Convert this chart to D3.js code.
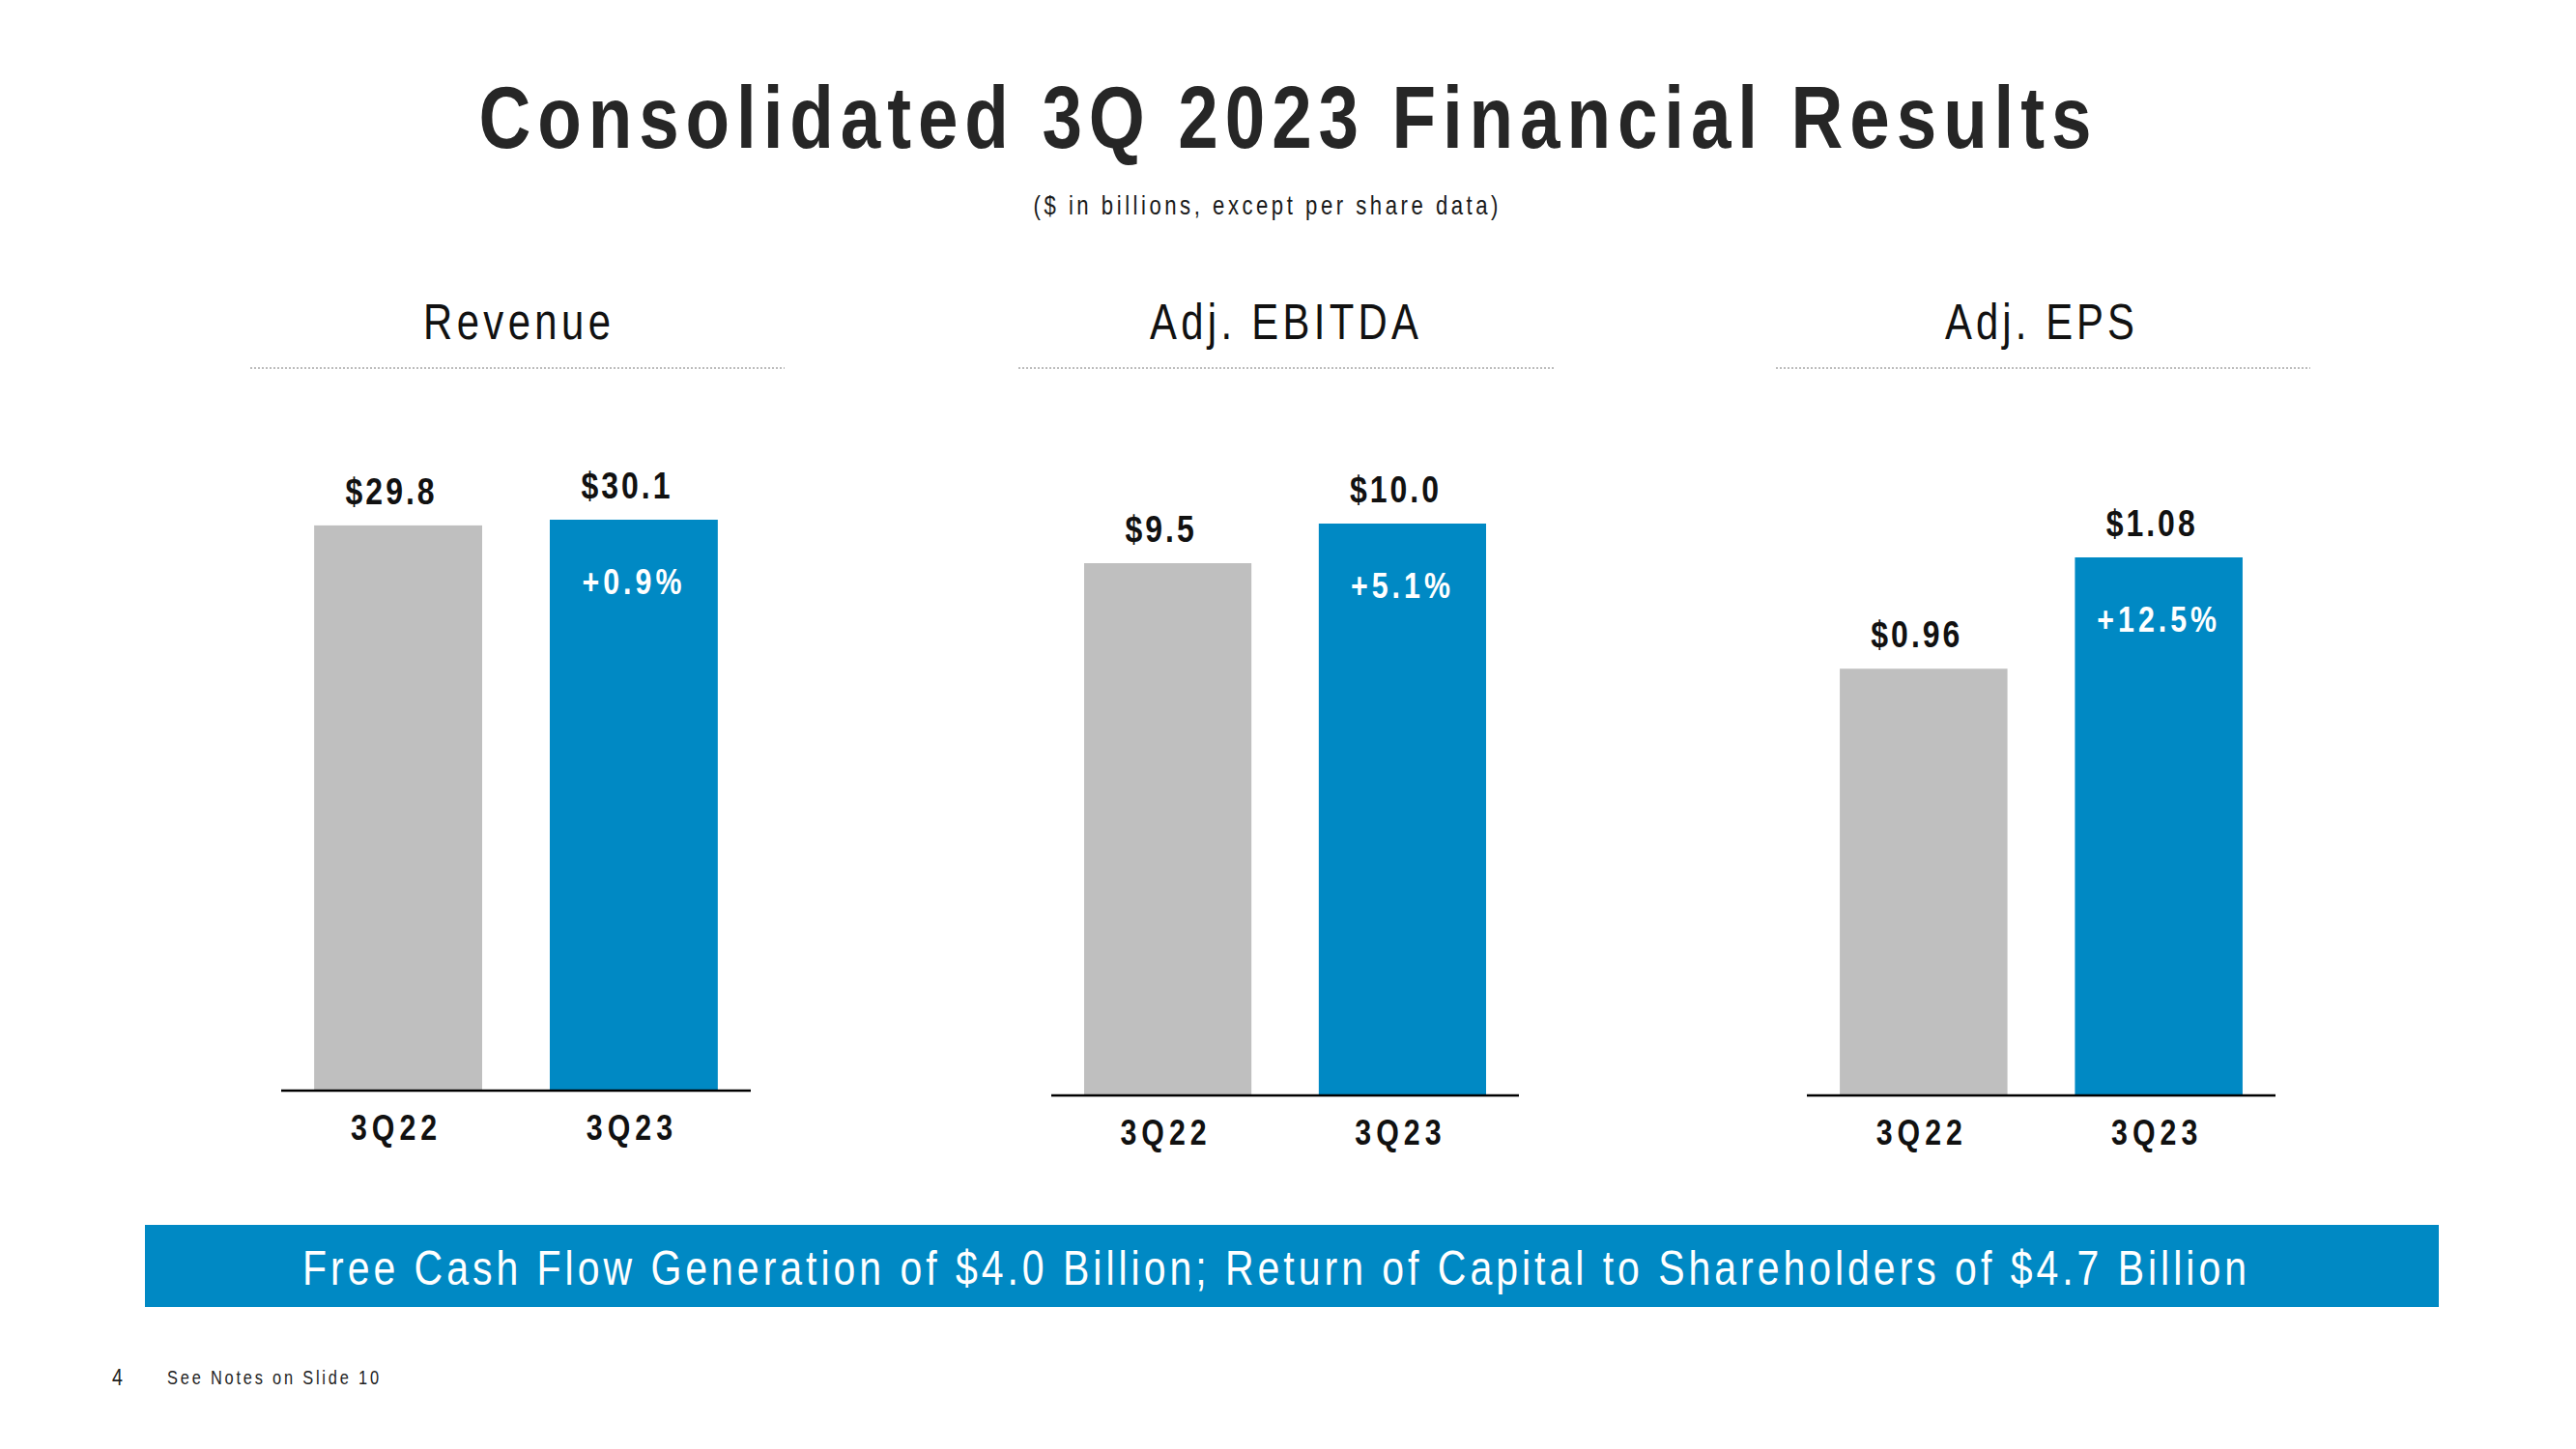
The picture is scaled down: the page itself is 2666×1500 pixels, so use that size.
<!DOCTYPE html>
<html><head><meta charset="utf-8">
<script src="https://cdn.jsdelivr.net/npm/d3@7"></script>
<style>
html,body{margin:0;padding:0;background:#fff;}
svg{display:block;}
text{font-family:"Liberation Sans Narrow","Arial Narrow","Liberation Sans",Arial,sans-serif;}
</style></head><body>
<svg id="chart" width="2666" height="1500"></svg>
<script>
// ---- data ----
const panelTitles = ["Revenue", "Adj. EBITDA", "Adj. EPS"];
const categories = ["3Q22", "3Q23"];
const revenueValues = [29.8, 30.1];
const ebitdaValues = [9.5, 10.0];
const epsValues = [0.96, 1.08];
const changeLabels = ["+0.9%", "+5.1%", "+12.5%"];
const valueFormats = ["$.1f", "$.1f", "$.2f"];
const titleText = "Consolidated 3Q 2023 Financial Results";
const subtitleText = "($ in billions, except per share data)";
const bannerText = "Free Cash Flow Generation of $4.0 Billion; Return of Capital to Shareholders of $4.7 Billion";
const pageNumber = "4";
const footnoteText = "See Notes on Slide 10";

const panelValues = [revenueValues, ebitdaValues, epsValues];

// ---- layout ----
const layout = [
  {axisL: 291, axisR: 777, axisY: 1129, yTop: 538, floor: 0, titleX: 535, titleW: 194, ruleL: 259, ruleR: 812},
  {axisL: 1088, axisR: 1572, axisY: 1134, yTop: 542, floor: 2.78, titleX: 1329, titleW: 278, ruleL: 1054, ruleR: 1608},
  {axisL: 1870, axisR: 2355, axisY: 1134, yTop: 577, floor: 0.5, titleX: 2111, titleW: 196, ruleL: 1838, ruleR: 2391}
];
const BLUE = "#0089C4", GRAY = "#BFBFBF", INK = "#111111";
const NX = 0.82; // horizontal condensing to emulate a narrow face

const svg = d3.select("#chart");
svg.append("rect").attr("width", 2666).attr("height", 1500).attr("fill", "#fff");

// narrow text helper: positions via transform, optional fitted width (real px)
function narrowText(parent, str, x, y, opts) {
  const t = parent.append("text").text(str)
    .attr("transform", `translate(${x},${y}) scale(${NX},1)`)
    .attr("x", 0).attr("y", 0)
    .attr("text-anchor", opts.anchor || "middle")
    .attr("font-size", opts.size)
    .attr("font-weight", opts.weight || "normal")
    .attr("fill", opts.fill || INK);
  if (opts.width) t.attr("textLength", opts.width / NX).attr("lengthAdjust", "spacing");
  if (opts.ls) t.attr("letter-spacing", (opts.ls / NX) + "px");
  return t;
}

narrowText(svg, titleText, 1330, 153, {size: 91, weight: "bold", fill: "#262626", width: 1669});
narrowText(svg, subtitleText, 1310, 222, {size: 27, fill: "#1a1a1a", width: 481});

panelTitles.forEach((pt, i) => {
  const L = layout[i];
  const vals = panelValues[i];
  const g = svg.append("g");

  narrowText(g, pt, L.titleX, 351, {size: 51, width: L.titleW});

  g.append("line")
    .attr("x1", L.ruleL).attr("x2", L.ruleR).attr("y1", 381).attr("y2", 381)
    .attr("stroke", "#BDBDBD").attr("stroke-width", 2).attr("stroke-dasharray", "2,2");

  const x = d3.scaleBand().domain(categories).range([L.axisL, L.axisR])
    .paddingInner(0.287).paddingOuter(0.14);
  const y = d3.scaleLinear().domain([L.floor, d3.max(vals)]).range([L.axisY, L.yTop]);
  const fmt = d3.format(valueFormats[i]);

  const data = categories.map((c, k) => ({c, v: vals[k], k}));

  g.selectAll("rect.bar").data(data).join("rect")
    .attr("class", "bar")
    .attr("x", d => x(d.c)).attr("width", x.bandwidth())
    .attr("y", d => y(d.v)).attr("height", d => y(L.floor) - y(d.v))
    .attr("fill", d => d.k === 0 ? GRAY : BLUE);

  data.forEach(d => {
    narrowText(g, fmt(d.v), x(d.c) + x.bandwidth() / 2 - 7, y(d.v) - 22,
      {size: 39, weight: "bold", ls: 3});
  });

  narrowText(g, changeLabels[i], x(categories[1]) + x.bandwidth() / 2, y(vals[1]) + 77,
    {size: 37, weight: "bold", ls: 4, fill: "#fff"});

  // axis
  const axis = d3.axisBottom(x).tickSize(0).tickPadding(0);
  const ag = g.append("g").attr("transform", `translate(0,${L.axisY})`).call(axis);
  ag.select(".domain").attr("stroke", "#000").attr("stroke-width", 2.5)
    .attr("d", `M${L.axisL},0H${L.axisR}`);
  ag.selectAll(".tick text")
    .attr("y", 0).attr("dy", null).attr("x", 0)
    .attr("transform", `translate(-2,51) scale(${NX},1)`)
    .attr("font-size", 37).attr("font-weight", "bold").attr("fill", INK)
    .attr("letter-spacing", (5 / NX) + "px")
    .style("font-family", "\"Liberation Sans Narrow\",\"Arial Narrow\",\"Liberation Sans\",Arial,sans-serif");
});

// banner
svg.append("rect").attr("x", 150).attr("y", 1268).attr("width", 2374).attr("height", 85).attr("fill", BLUE);
narrowText(svg, bannerText, 1319, 1330, {size: 50, fill: "#fff", width: 2012});

// footer
narrowText(svg, pageNumber, 116, 1434, {size: 24, fill: "#222", anchor: "start"});
narrowText(svg, footnoteText, 173, 1433, {size: 20, fill: "#222", anchor: "start", width: 219});
</script>
</body></html>
